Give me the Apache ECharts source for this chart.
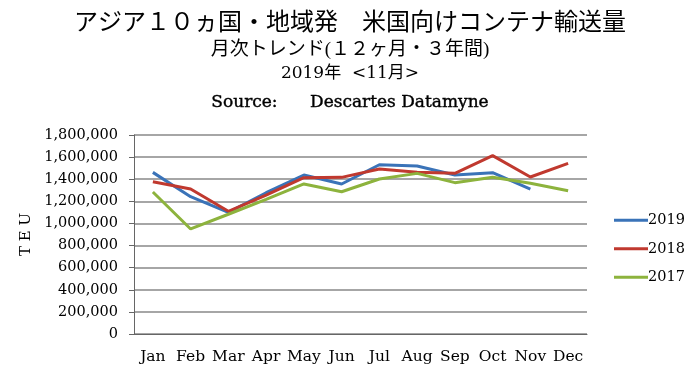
<!DOCTYPE html>
<html><head><meta charset="utf-8">
<script src="https://cdn.jsdelivr.net/npm/echarts@6/dist/echarts.min.js"></script>
<style>html,body{margin:0;padding:0;background:#fff}#c{width:700px;height:373px}</style>
</head><body><div id="c"></div>
<script>
var categories = ['Jan','Feb','Mar','Apr','May','Jun','Jul','Aug','Sep','Oct','Nov','Dec'];
var s2019 = [1462000,1242000,1100000,1278000,1438000,1357000,1531000,1520000,1438000,1459000,1311000,null];
var s2018 = [1378000,1311000,1110000,1257000,1414000,1417000,1492000,1462000,1453000,1613000,1420000,1544000];
var s2017 = [1284000,950000,1083000,1218000,1357000,1287000,1402000,1453000,1369000,1417000,1363000,1296000];
var yTicks = {min:0, max:1800000, interval:200000};
var serif = "'Liberation Serif','Noto Sans CJK JP',serif";
var wide = "'DejaVu Serif','Noto Sans CJK JP',serif";
var chart = echarts.init(document.getElementById('c'));
function mk(name, data, color){
  return {name:name, type:'line', data:data, showSymbol:false, symbol:'none',
    lineStyle:{color:color, width:3}, itemStyle:{color:color}, connectNulls:false, animation:false};
}
chart.setOption({
  animation:false,
  title:[
    {text:'アジア１０ヵ国・地域発　米国向けコンテナ輸送量', left:'center', top:12, padding:0,
      textStyle:{fontFamily:serif, fontSize:24, fontWeight:'normal', color:'#000'}},
    {text:'月次トレンド(１２ヶ月・３年間)', left:'center', top:41, padding:0,
      textStyle:{fontFamily:serif, fontSize:19, fontWeight:'normal', color:'#000'}},
    {text:'2019年  <11月>', left:'center', top:65, padding:0,
      textStyle:{fontFamily:wide, fontSize:17, fontWeight:'normal', color:'#000'}},
    {text:'Source:      Descartes Datamyne', left:'center', top:94, padding:0,
      textStyle:{fontFamily:wide, fontSize:17, fontWeight:'normal', color:'#000', textBorderColor:'#000', textBorderWidth:0.4}}
  ],
  legend:{orient:'vertical', left:609, top:208, itemGap:14, itemWidth:34, itemHeight:3,
    icon:'rect', textStyle:{fontFamily:wide, fontSize:14.5, color:'#000', padding:[0,0,0,-5]},
    data:['2019','2018','2017']},
  grid:{left:134, right:113, top:135, bottom:39, containLabel:false},
  xAxis:{type:'category', data:categories, boundaryGap:true,
    axisLine:{lineStyle:{color:'#666', width:1}}, axisTick:{show:false},
    axisLabel:{fontFamily:wide, fontSize:15.5, color:'#000', margin:15, interval:0}},
  yAxis:{type:'value', min:yTicks.min, max:yTicks.max, interval:yTicks.interval,
    name:'T E U', nameLocation:'middle', nameRotate:90, nameGap:94,
    nameTextStyle:{fontFamily:wide, fontSize:15, color:'#000'},
    axisLine:{show:true, lineStyle:{color:'#666', width:1}},
    axisTick:{show:true, length:5, lineStyle:{color:'#666'}},
    splitLine:{lineStyle:{color:'#888', width:1.5}},
    axisLabel:{fontFamily:wide, fontSize:14.5, color:'#000', margin:16,
      formatter:function(v){return v.toLocaleString('en-US');}}},
  series:[mk('2019', s2019, '#3A73B8'), mk('2018', s2018, '#C0392F'), mk('2017', s2017, '#8DB33D')]
});
</script></body></html>
